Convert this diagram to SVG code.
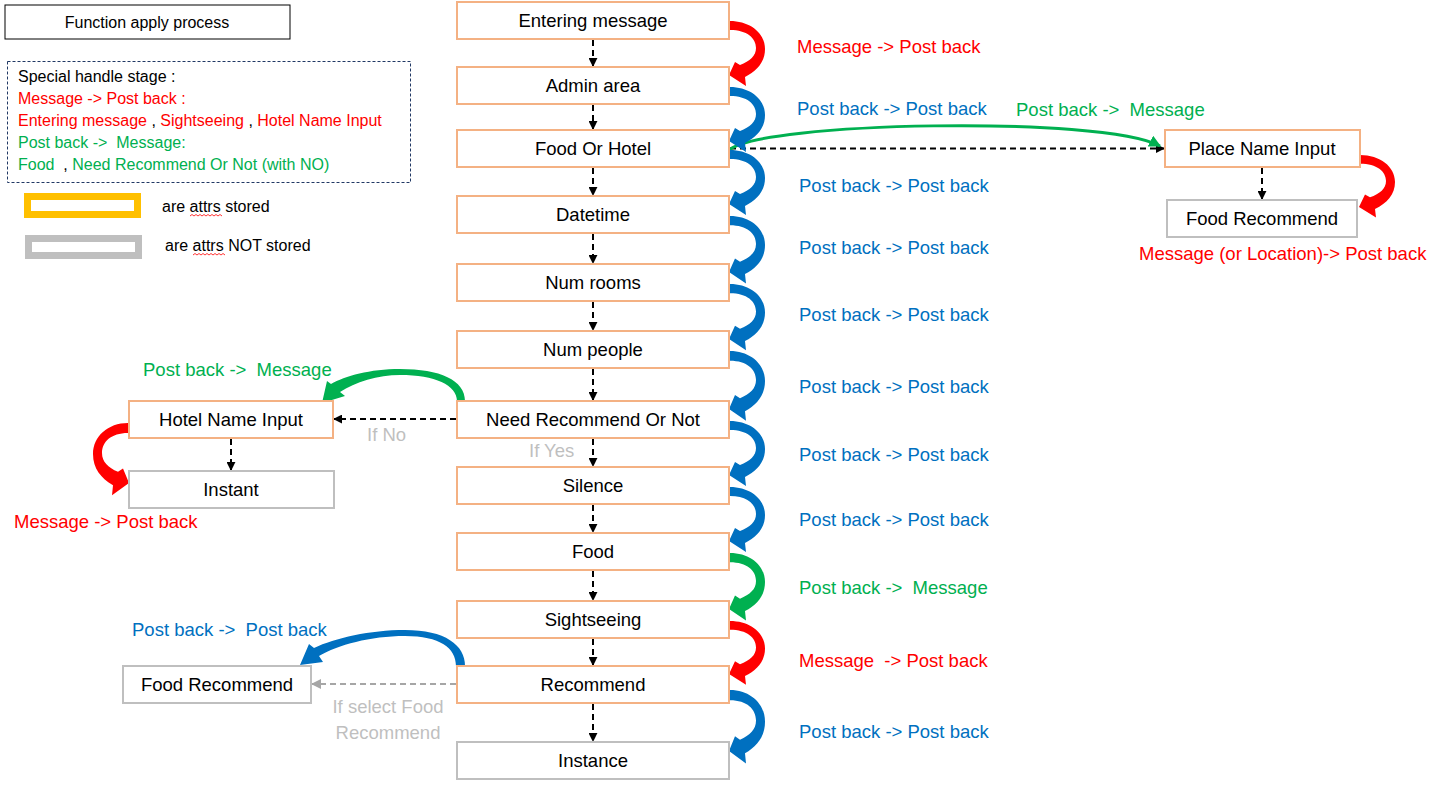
<svg xmlns="http://www.w3.org/2000/svg" width="1451" height="803" viewBox="0 0 1451 803">
<style>
text{font-family:"Liberation Sans",Arial,sans-serif;}
.lbl{font-size:18.5px;white-space:pre;}
.box{fill:#fff;stroke:#F4B183;stroke-width:2;}
.gbox{fill:#fff;stroke:#BFBFBF;stroke-width:2;}
.bt{font-size:18.5px;text-anchor:middle;fill:#000;}
.dash{fill:none;stroke:#000;stroke-width:2;stroke-dasharray:6,4;}
.gdash{fill:none;stroke:#A6A6A6;stroke-width:2;stroke-dasharray:6,4;}
.red{fill:#FF0000;}
.blue{fill:#0070C0;}
.green{fill:#00B050;}
.gray{fill:#BFBFBF;}
.lg{font-size:16px;white-space:pre;}
</style>
<defs>
<marker id="ah" viewBox="0 0 10 10" refX="9" refY="5" markerWidth="9" markerHeight="9" markerUnits="userSpaceOnUse" orient="auto">
<path d="M0,0 L10,5 L0,10 Z" fill="#000"/>
</marker>
<marker id="ahg" viewBox="0 0 10 10" refX="9" refY="5" markerWidth="10" markerHeight="10" markerUnits="userSpaceOnUse" orient="auto">
<path d="M0,0 L10,5 L0,10 Z" fill="#A6A6A6"/>
</marker>
<marker id="ahgr" viewBox="0 0 10 10" refX="9" refY="5" markerWidth="12" markerHeight="12" markerUnits="userSpaceOnUse" orient="auto">
<path d="M0,0 L10,5 L0,10 Z" fill="#00B050"/>
</marker>
<path id="crv" d="M0,0 C20,0 35,12 35,28 C35,41 27,50 15,56 L16,65 L-1,54 L5,41 L10,44 C20,40 26,35 26,27 C26,17 17,9 0,9 Z"/>
</defs>

<g id="legend">
<rect x="5" y="5" width="285" height="34" fill="#fff" stroke="#000" stroke-width="1"/>
<text x="147" y="28" font-size="16" text-anchor="middle">Function apply process</text>
<rect x="7.5" y="61.5" width="403" height="121" fill="#fff" stroke="#203864" stroke-width="1" stroke-dasharray="3,2"/>
<text class="lg" x="18" y="82">Special handle stage :</text>
<text class="lg red" x="18" y="104">Message -&gt; Post back :</text>
<text class="lg" x="18" y="126"><tspan class="red">Entering message</tspan> , <tspan class="red">Sightseeing</tspan> , <tspan class="red">Hotel Name Input</tspan></text>
<text class="lg green" x="18" y="148">Post back -&gt;  Message:</text>
<text class="lg" x="18" y="170"><tspan class="green">Food</tspan>  , <tspan class="green">Need Recommend Or Not (with NO)</tspan></text>
<rect x="27.5" y="196.5" width="110" height="18" fill="#fff" stroke="#FFC000" stroke-width="7"/>
<text x="162" y="212" font-size="16">are attrs stored</text>
<path d="M190,216 l2,-1.5 l2,1.5 l2,-1.5 l2,1.5 l2,-1.5 l2,1.5 l2,-1.5 l2,1.5 l2,-1.5 l2,1.5 l2,-1.5 l2,1.5 l2,-1.5 l2,1.5 l2,-1.5 l2,1.5" fill="none" stroke="#FF0000" stroke-width="0.8"/>
<rect x="28.5" y="238.5" width="110" height="17" fill="#fff" stroke="#BFBFBF" stroke-width="7"/>
<text x="165" y="251" font-size="16">are attrs NOT stored</text>
<path d="M193,255 l2,-1.5 l2,1.5 l2,-1.5 l2,1.5 l2,-1.5 l2,1.5 l2,-1.5 l2,1.5 l2,-1.5 l2,1.5 l2,-1.5 l2,1.5 l2,-1.5 l2,1.5 l2,-1.5 l2,1.5" fill="none" stroke="#FF0000" stroke-width="0.8"/>
</g>

<g id="connectors">
<path class="dash" d="M593,40 V66" marker-end="url(#ah)"/>
<path class="dash" d="M593,105 V129" marker-end="url(#ah)"/>
<path class="dash" d="M593,168 V195" marker-end="url(#ah)"/>
<path class="dash" d="M593,234 V263" marker-end="url(#ah)"/>
<path class="dash" d="M593,302 V330" marker-end="url(#ah)"/>
<path class="dash" d="M593,369 V400" marker-end="url(#ah)"/>
<path class="dash" d="M593,439 V466" marker-end="url(#ah)"/>
<path class="dash" d="M593,505 V532" marker-end="url(#ah)"/>
<path class="dash" d="M593,571 V600" marker-end="url(#ah)"/>
<path class="dash" d="M593,639 V665" marker-end="url(#ah)"/>
<path class="dash" d="M593,704 V741" marker-end="url(#ah)"/>
<path class="dash" d="M730,148.5 H1164" marker-end="url(#ah)"/>
<path class="dash" d="M1262,168 V199" marker-end="url(#ah)"/>
<path class="dash" d="M456,419 H334" marker-end="url(#ah)"/>
<path class="dash" d="M231,439 V470" marker-end="url(#ah)"/>
<path class="gdash" d="M456,684 H312" marker-end="url(#ahg)"/>
<path d="M729,150 C760,122 1100,115 1160,146" fill="none" stroke="#00B050" stroke-width="3" marker-end="url(#ahgr)"/>

<use href="#crv" class="red" transform="translate(730,21) scale(1,1)"/>
<use href="#crv" class="blue" transform="translate(730,87) scale(1,1)"/>
<use href="#crv" class="blue" transform="translate(730,150) scale(1,1)"/>
<use href="#crv" class="blue" transform="translate(730,216) scale(1,1.037)"/>
<use href="#crv" class="blue" transform="translate(730,284) scale(1,1.019)"/>
<use href="#crv" class="blue" transform="translate(730,351) scale(1,1.074)"/>
<use href="#crv" class="blue" transform="translate(730,421) scale(1,1)"/>
<use href="#crv" class="blue" transform="translate(730,487) scale(1,1)"/>
<use href="#crv" class="green" transform="translate(730,553) scale(1,1.037)"/>
<use href="#crv" class="red" transform="translate(730,621) scale(1,0.981)"/>
<use href="#crv" class="blue" transform="translate(730,690) scale(1,1.13)"/>
<use href="#crv" class="red" transform="translate(1360,155) scale(1,0.963)"/>
<use href="#crv" class="red" transform="translate(128,423) scale(-1,1.11)"/>

<path class="green" d="M465,401 C465,380 440,369 400,369 C370,369 345,376 331,384 L327,381 L322,403 L345,396 L340,392 C355,382 378,375 400,375 C435,375 457,385 457,401 Z"/>
<path class="blue" d="M465,666 C465,645 445,630 405,630 C370,630 335,638 314,648 L309,644 L300,665 L323,662 L319,656 C338,645 370,636 405,636 C440,636 456,648 456,666 Z"/>
</g>

<g id="n-entering"><rect class="box" x="457" y="2" width="272" height="37"/><text class="bt" x="593" y="27">Entering message</text></g>
<g id="n-admin"><rect class="box" x="457" y="67" width="272" height="37"/><text class="bt" x="593" y="92">Admin area</text></g>
<g id="n-foodorhotel"><rect class="box" x="457" y="130" width="272" height="37"/><text class="bt" x="593" y="155">Food Or Hotel</text></g>
<g id="n-datetime"><rect class="box" x="457" y="196" width="272" height="37"/><text class="bt" x="593" y="221">Datetime</text></g>
<g id="n-numrooms"><rect class="box" x="457" y="264" width="272" height="37"/><text class="bt" x="593" y="289">Num rooms</text></g>
<g id="n-numpeople"><rect class="box" x="457" y="331" width="272" height="37"/><text class="bt" x="593" y="356">Num people</text></g>
<g id="n-need"><rect class="box" x="457" y="401" width="272" height="37"/><text class="bt" x="593" y="426">Need Recommend Or Not</text></g>
<g id="n-silence"><rect class="box" x="457" y="467" width="272" height="37"/><text class="bt" x="593" y="492">Silence</text></g>
<g id="n-food"><rect class="box" x="457" y="533" width="272" height="37"/><text class="bt" x="593" y="558">Food</text></g>
<g id="n-sightseeing"><rect class="box" x="457" y="601" width="272" height="37"/><text class="bt" x="593" y="626">Sightseeing</text></g>
<g id="n-recommend"><rect class="box" x="457" y="666" width="272" height="37"/><text class="bt" x="593" y="691">Recommend</text></g>
<g id="n-instance"><rect class="gbox" x="457" y="742" width="272" height="37"/><text class="bt" x="593" y="767">Instance</text></g>
<g id="n-placename"><rect class="box" x="1165" y="130" width="195" height="37"/><text class="bt" x="1262" y="155">Place Name Input</text></g>
<g id="n-foodrec-right"><rect class="gbox" x="1167" y="200" width="190" height="37"/><text class="bt" x="1262" y="225">Food Recommend</text></g>
<g id="n-hotelname"><rect class="box" x="129" y="401" width="204" height="37"/><text class="bt" x="231" y="426">Hotel Name Input</text></g>
<g id="n-instant"><rect class="gbox" x="129" y="471" width="205" height="37"/><text class="bt" x="231" y="496">Instant</text></g>
<g id="n-foodrec-left"><rect class="gbox" x="123" y="666" width="188" height="37"/><text class="bt" x="217" y="691">Food Recommend</text></g>

<g id="labels">
<text class="lbl red" x="797" y="53">Message -&gt; Post back</text>
<text class="lbl blue" x="797" y="115">Post back -&gt; Post back</text>
<text class="lbl green" x="1016" y="116">Post back -&gt;  Message</text>
<text class="lbl blue" x="799" y="192">Post back -&gt; Post back</text>
<text class="lbl blue" x="799" y="254">Post back -&gt; Post back</text>
<text class="lbl blue" x="799" y="321">Post back -&gt; Post back</text>
<text class="lbl blue" x="799" y="393">Post back -&gt; Post back</text>
<text class="lbl blue" x="799" y="461">Post back -&gt; Post back</text>
<text class="lbl blue" x="799" y="526">Post back -&gt; Post back</text>
<text class="lbl green" x="799" y="594">Post back -&gt;  Message</text>
<text class="lbl red" x="799" y="667">Message  -&gt; Post back</text>
<text class="lbl blue" x="799" y="738">Post back -&gt; Post back</text>
<text class="lbl red" x="1139" y="260">Message (or Location)-&gt; Post back</text>
<text class="lbl green" x="143" y="376">Post back -&gt;  Message</text>
<text class="lbl red" x="14" y="528">Message -&gt; Post back</text>
<text class="lbl blue" x="132" y="636">Post back -&gt;  Post back</text>
<text class="lbl gray" x="367" y="441">If No</text>
<text class="lbl gray" x="529" y="457">If Yes</text>
<text class="lbl gray" x="388" y="713" text-anchor="middle">If select Food</text>
<text class="lbl gray" x="388" y="739" text-anchor="middle">Recommend</text>
</g>
</svg>
